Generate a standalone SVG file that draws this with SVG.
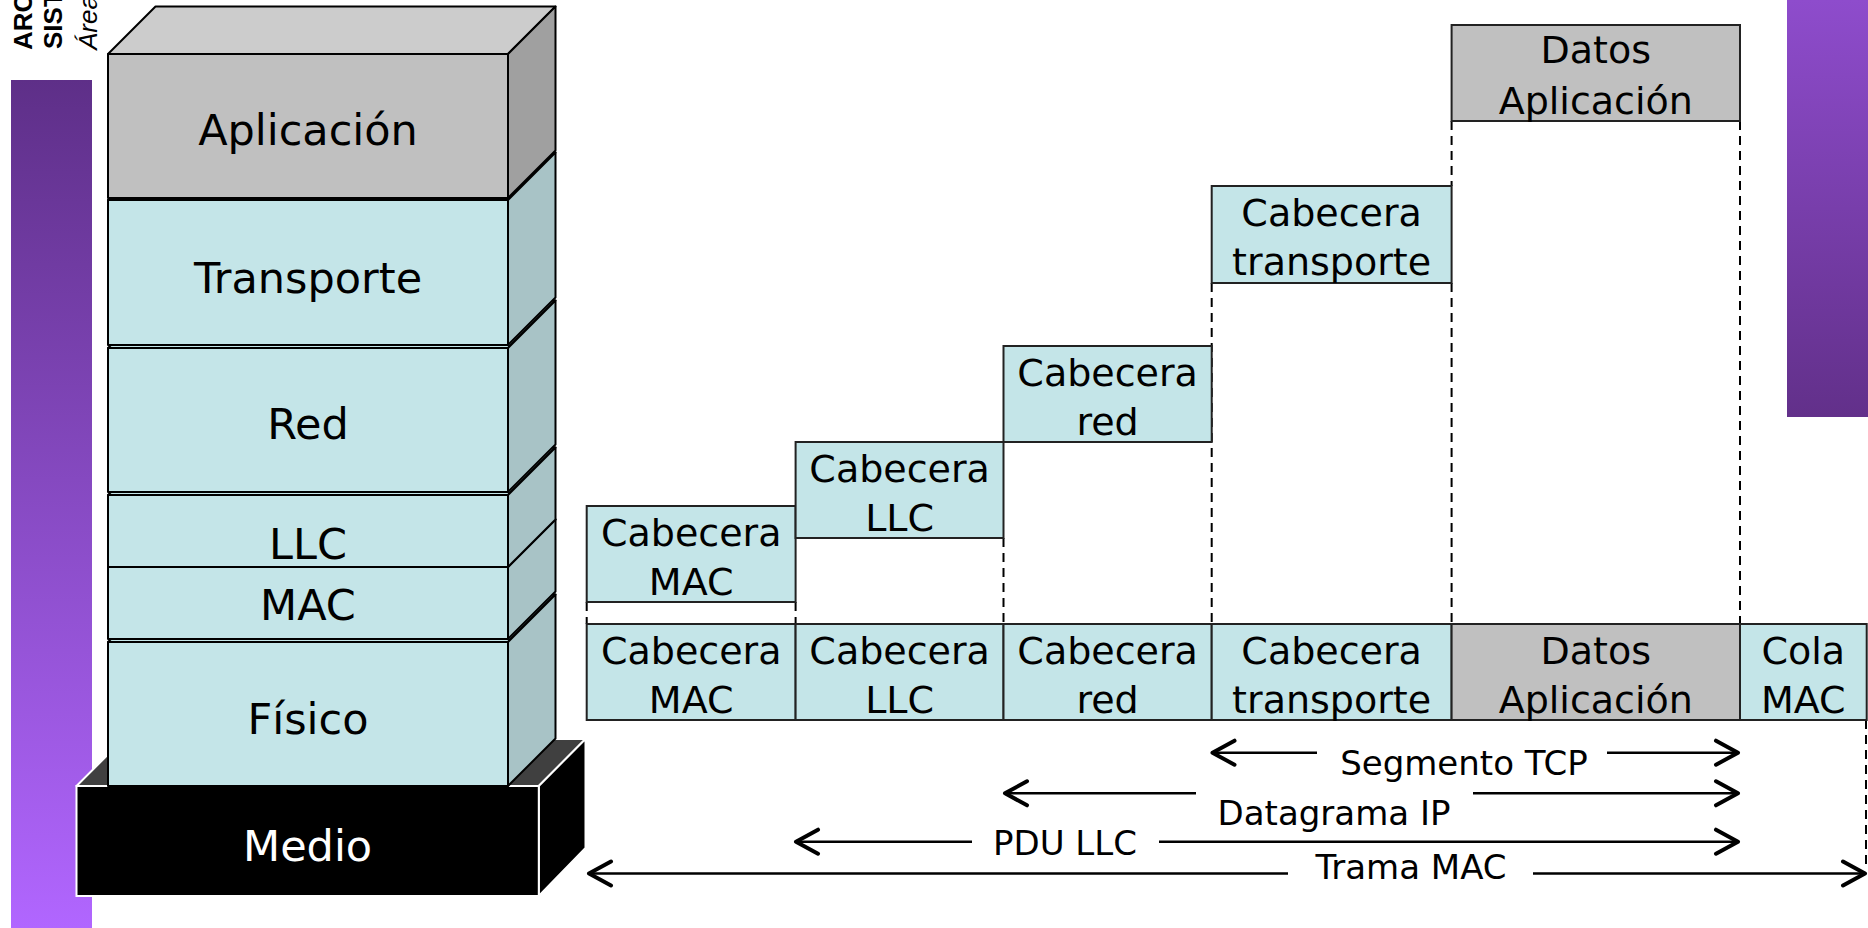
<svg xmlns="http://www.w3.org/2000/svg" width="1868" height="928" viewBox="0 0 1868 928">
<defs>
<linearGradient id="gLeft" x1="0" y1="0" x2="0" y2="1">
<stop offset="0" stop-color="#5e2f88"/>
<stop offset="1" stop-color="#b166ff"/>
</linearGradient>
<linearGradient id="gRight" x1="0" y1="0" x2="0" y2="1">
<stop offset="0" stop-color="#8e4ccc"/>
<stop offset="1" stop-color="#62308a"/>
</linearGradient>
<marker id="chev" viewBox="-26 -15 30 30" refX="0" refY="0" markerWidth="30" markerHeight="30" markerUnits="userSpaceOnUse" orient="auto-start-reverse">
<path d="M-22,-12 L0,0 L-22,12" fill="none" stroke="#000" stroke-width="4" stroke-linecap="round" stroke-linejoin="round"/>
</marker>
<style>
.cf{fill:#c4e5e8;stroke:#000;stroke-width:2;stroke-linejoin:round}
.cs{fill:#a8c3c6;stroke:#000;stroke-width:2;stroke-linejoin:round}
.gf{fill:#c0c0c0;stroke:#000;stroke-width:2;stroke-linejoin:round}
.gt{fill:#cccccc;stroke:#000;stroke-width:2;stroke-linejoin:round}
.gs{fill:#a0a0a0;stroke:#000;stroke-width:2;stroke-linejoin:round}
.pc{fill:#c4e5e8;stroke:#222;stroke-width:2}
.pg{fill:#c0c0c0;stroke:#222;stroke-width:2}
.st{font-family:"DejaVu Sans",sans-serif;font-size:43px;text-anchor:middle;fill:#000}
.pt{font-family:"DejaVu Sans",sans-serif;font-size:38px;text-anchor:middle;fill:#000}
.lt{font-family:"DejaVu Sans",sans-serif;font-size:34px;text-anchor:middle;fill:#000}
.dash{stroke:#000;stroke-width:2;stroke-dasharray:9 6;fill:none}
.arr{stroke:#000;stroke-width:2.5;fill:none}
.hd{font-family:"Liberation Sans",Arial,sans-serif;font-size:26px;fill:#000}
</style>
</defs>
<rect x="0" y="0" width="1868" height="928" fill="#ffffff"/>

<g id="bars">
<rect x="11" y="80" width="81" height="848" fill="url(#gLeft)"/>
<rect x="1787" y="0" width="81" height="417" fill="url(#gRight)"/>
</g>

<g id="header">
<text class="hd" font-weight="bold" transform="translate(32,50) rotate(-90)">ARC</text>
<text class="hd" font-weight="bold" transform="translate(62,49) rotate(-90)">SIST</text>
<text class="hd" font-style="italic" transform="translate(97,50) rotate(-90)">Área</text>
</g>

<g id="medio">
<polygon points="76.5,786 123.5,739 585.5,739 538.8,786" fill="#404040" stroke="#fff" stroke-width="2" stroke-linejoin="round"/>
<polygon points="538.8,786 585.5,739 585.5,848 538.8,896" fill="#000" stroke="#fff" stroke-width="2" stroke-linejoin="round"/>
<rect x="76.5" y="786" width="462.3" height="110" fill="#000" stroke="#fff" stroke-width="2"/>
<text class="st" x="307.6" y="861" fill="#fff" style="fill:#fff">Medio</text>
</g>

<g id="fisico">
<polygon class="cf" points="108,642 155.5,594.5 555.5,594.5 508,642"/>
<polygon class="cs" points="508,642 555.5,594.5 555.5,738.5 508,786"/>
<rect class="cf" x="108" y="642" width="400" height="144"/>
<text class="st" x="308" y="734">Físico</text>
</g>

<g id="mac">
<polygon class="cf" points="108,567 155.5,519.5 555.5,519.5 508,567"/>
<polygon class="cs" points="508,567 555.5,519.5 555.5,591.5 508,639"/>
<rect class="cf" x="108" y="567" width="400" height="72"/>
<text class="st" x="308" y="620">MAC</text>
</g>

<g id="llc">
<polygon class="cf" points="108,495 155.5,447.5 555.5,447.5 508,495"/>
<polygon class="cs" points="508,495 555.5,447.5 555.5,519.5 508,567"/>
<rect class="cf" x="108" y="495" width="400" height="72"/>
<text class="st" x="308" y="559">LLC</text>
</g>

<g id="red">
<polygon class="cf" points="108,348 155.5,300.5 555.5,300.5 508,348"/>
<polygon class="cs" points="508,348 555.5,300.5 555.5,444.5 508,492"/>
<rect class="cf" x="108" y="348" width="400" height="144"/>
<text class="st" x="308" y="439">Red</text>
</g>

<g id="transporte">
<polygon class="cf" points="108,200 155.5,152.5 555.5,152.5 508,200"/>
<polygon class="cs" points="508,200 555.5,152.5 555.5,297.5 508,345"/>
<rect class="cf" x="108" y="200" width="400" height="145"/>
<text class="st" x="308" y="293">Transporte</text>
</g>

<g id="aplicacion">
<polygon class="gt" points="108,54 155.5,6.5 555.5,6.5 508,54"/>
<polygon class="gs" points="508,54 555.5,6.5 555.5,150.5 508,198"/>
<rect class="gf" x="108" y="54" width="400" height="144"/>
<text class="st" x="308" y="145">Aplicación</text>
</g>

<g id="connectors">
<line class="dash" x1="586.7" y1="602" x2="586.7" y2="624"/>
<line class="dash" x1="795.6" y1="602" x2="795.6" y2="624"/>
<line class="dash" x1="1003.5" y1="538" x2="1003.5" y2="624"/>
<line class="dash" x1="1211.7" y1="283" x2="1211.7" y2="624"/>
<line class="dash" x1="1451.6" y1="121" x2="1451.6" y2="186"/>
<line class="dash" x1="1451.6" y1="283" x2="1451.6" y2="624"/>
<line class="dash" x1="1740" y1="121" x2="1740" y2="624"/>
<line class="dash" x1="1866" y1="720" x2="1866" y2="866"/>
<path class="arr" d="M1212.5,752.7 L1317,752.7" marker-start="url(#chev)"/>
<path class="arr" d="M1607,752.7 L1738,752.7" marker-end="url(#chev)"/>
<path class="arr" d="M1005,793.3 L1196,793.3" marker-start="url(#chev)"/>
<path class="arr" d="M1473,793.3 L1738,793.3" marker-end="url(#chev)"/>
<path class="arr" d="M796,841.7 L972,841.7" marker-start="url(#chev)"/>
<path class="arr" d="M1159,841.7 L1738,841.7" marker-end="url(#chev)"/>
<path class="arr" d="M589,873.5 L1288,873.5" marker-start="url(#chev)"/>
<path class="arr" d="M1533,873.5 L1865,873.5" marker-end="url(#chev)"/>
</g>

<g id="lbl-segmento"><text class="lt" x="1464" y="775">Segmento TCP</text></g>
<g id="lbl-datagrama"><text class="lt" x="1334" y="825">Datagrama IP</text></g>
<g id="lbl-pdu"><text class="lt" x="1065" y="855">PDU LLC</text></g>
<g id="lbl-trama"><text class="lt" x="1411" y="879">Trama MAC</text></g>

<g id="up-cab-mac">
<rect class="pc" x="586.7" y="506" width="208.9" height="96"/>
<text class="pt" x="691.2" y="546">Cabecera</text>
<text class="pt" x="691.2" y="595">MAC</text>
</g>
<g id="up-cab-llc">
<rect class="pc" x="795.6" y="442" width="207.9" height="96"/>
<text class="pt" x="899.6" y="482">Cabecera</text>
<text class="pt" x="899.6" y="531">LLC</text>
</g>
<g id="up-cab-red">
<rect class="pc" x="1003.5" y="346" width="208.2" height="96"/>
<text class="pt" x="1107.6" y="386">Cabecera</text>
<text class="pt" x="1107.6" y="435">red</text>
</g>
<g id="up-cab-transporte">
<rect class="pc" x="1211.7" y="186" width="239.9" height="97"/>
<text class="pt" x="1331.6" y="226">Cabecera</text>
<text class="pt" x="1331.6" y="275">transporte</text>
</g>
<g id="up-datos">
<rect class="pg" x="1451.6" y="25" width="288.4" height="96"/>
<text class="pt" x="1595.8" y="63">Datos</text>
<text class="pt" x="1595.8" y="114">Aplicación</text>
</g>

<g id="frame-cab-mac">
<rect class="pc" x="586.7" y="624" width="208.9" height="96"/>
<text class="pt" x="691.2" y="664">Cabecera</text>
<text class="pt" x="691.2" y="713">MAC</text>
</g>
<g id="frame-cab-llc">
<rect class="pc" x="795.6" y="624" width="207.9" height="96"/>
<text class="pt" x="899.6" y="664">Cabecera</text>
<text class="pt" x="899.6" y="713">LLC</text>
</g>
<g id="frame-cab-red">
<rect class="pc" x="1003.5" y="624" width="208.2" height="96"/>
<text class="pt" x="1107.6" y="664">Cabecera</text>
<text class="pt" x="1107.6" y="713">red</text>
</g>
<g id="frame-cab-transporte">
<rect class="pc" x="1211.7" y="624" width="239.9" height="96"/>
<text class="pt" x="1331.6" y="664">Cabecera</text>
<text class="pt" x="1331.6" y="713">transporte</text>
</g>
<g id="frame-datos">
<rect class="pg" x="1451.6" y="624" width="288.4" height="96"/>
<text class="pt" x="1595.8" y="664">Datos</text>
<text class="pt" x="1595.8" y="713">Aplicación</text>
</g>
<g id="frame-cola">
<rect class="pc" x="1740" y="624" width="126.7" height="96"/>
<text class="pt" x="1803.3" y="664">Cola</text>
<text class="pt" x="1803.3" y="713">MAC</text>
</g>
</svg>
